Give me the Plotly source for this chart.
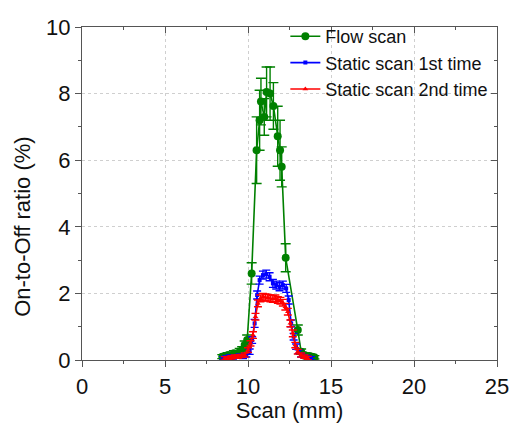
import plotly.graph_objects as go

# Flow scan
flow_x = [8.45, 8.6, 8.8, 9.0, 9.15, 9.3, 9.5, 9.65, 9.8, 9.95, 10.22, 10.52, 10.7, 10.78, 10.98,
          11.12, 11.33, 11.53, 11.79, 11.93, 12.03, 12.27, 13.0, 13.2, 13.4, 13.55, 13.7, 13.85, 14.0]
flow_y = [0.1, 0.12, 0.15, 0.1, 0.2, 0.18, 0.25, 0.3, 0.45, 0.6, 2.6, 6.3, 7.2, 7.76, 7.3,
          8.05, 8.0, 7.63, 6.72, 6.3, 5.8, 3.07, 0.9, 0.25, 0.15, 0.1, 0.12, 0.1, 0.08]
flow_e = [0.06, 0.06, 0.07, 0.06, 0.08, 0.08, 0.1, 0.1, 0.12, 0.15, 0.32, 1.0, 0.9, 0.7, 0.55,
          0.75, 0.8, 0.7, 0.9, 0.9, 0.6, 0.42, 0.15, 0.08, 0.06, 0.06, 0.06, 0.05, 0.05]

# Static scan 1st time
s1_x = [8.5, 8.7, 8.9, 9.1, 9.3, 9.5, 9.7, 9.9, 10.1, 10.25, 10.4, 10.55, 10.7, 10.9, 11.1, 11.3,
        11.5, 11.7, 11.9, 12.1, 12.3, 12.45, 12.6, 12.75, 12.9, 13.05, 13.2, 13.4, 13.6, 13.8]
s1_y = [0.05, 0.08, 0.1, 0.08, 0.1, 0.12, 0.1, 0.15, 0.25, 0.6, 1.1, 1.95, 2.4, 2.55, 2.58, 2.5,
        2.3, 2.25, 2.2, 2.25, 2.15, 1.8, 1.1, 0.7, 0.4, 0.25, 0.15, 0.1, 0.08, 0.05]
s1_e = [0.05, 0.05, 0.05, 0.05, 0.05, 0.06, 0.06, 0.06, 0.08, 0.1, 0.12, 0.12, 0.12, 0.12, 0.12, 0.12,
        0.12, 0.12, 0.12, 0.12, 0.12, 0.12, 0.1, 0.1, 0.08, 0.06, 0.06, 0.05, 0.05, 0.05]

# Static scan 2nd time
s2_x = [8.6, 8.8, 9.0, 9.2, 9.4, 9.6, 9.8, 10.0, 10.15, 10.3, 10.45, 10.6, 10.75, 10.9, 11.05, 11.2,
        11.35, 11.5, 11.65, 11.8, 11.95, 12.1, 12.25, 12.4, 12.55, 12.7, 12.85, 13.0, 13.2, 13.4, 13.6]
s2_y = [0.05, 0.06, 0.08, 0.1, 0.1, 0.12, 0.15, 0.3, 0.5, 0.75, 1.3, 1.7, 1.85, 1.9, 1.88, 1.87,
        1.85, 1.83, 1.85, 1.8, 1.78, 1.72, 1.6, 1.45, 1.1, 0.8, 0.45, 0.25, 0.15, 0.1, 0.06]
s2_e = [0.05, 0.05, 0.05, 0.05, 0.05, 0.05, 0.06, 0.07, 0.08, 0.1, 0.1, 0.1, 0.1, 0.1, 0.1, 0.1,
        0.1, 0.1, 0.1, 0.1, 0.1, 0.1, 0.1, 0.1, 0.1, 0.1, 0.08, 0.07, 0.06, 0.05, 0.05]

x_ticks = [0, 5, 10, 15, 20, 25]
y_ticks = [0, 2, 4, 6, 8, 10]

FONT = "Liberation Sans, Arial, sans-serif"
AX = "#555555"

fig = go.Figure()
fig.add_trace(go.Scatter(
    x=flow_x, y=flow_y, name="Flow scan", mode="lines+markers",
    line=dict(color="#008000", width=1.6),
    marker=dict(symbol="circle", size=8, color="#008000"),
    error_y=dict(type="data", array=flow_e, visible=True, color="#008000", thickness=1.4, width=5),
))
fig.add_trace(go.Scatter(
    x=s1_x, y=s1_y, name="Static scan 1st time", mode="lines+markers",
    line=dict(color="#0000ff", width=1.6),
    marker=dict(symbol="square", size=4, color="#0000ff"),
    error_y=dict(type="data", array=s1_e, visible=True, color="#0000ff", thickness=1.4, width=4),
))
fig.add_trace(go.Scatter(
    x=s2_x, y=s2_y, name="Static scan 2nd time", mode="lines+markers",
    line=dict(color="#ff0000", width=1.6),
    marker=dict(symbol="triangle-up", size=5, color="#ff0000"),
    error_y=dict(type="data", array=s2_e, visible=True, color="#ff0000", thickness=1.4, width=4),
))
# empty helper traces so the mirrored (top/right) tick axes are drawn
fig.add_trace(go.Scatter(x=[None], y=[None], xaxis="x2", yaxis="y", showlegend=False, hoverinfo="skip"))
fig.add_trace(go.Scatter(x=[None], y=[None], xaxis="x", yaxis="y2", showlegend=False, hoverinfo="skip"))

axis_common = dict(
    showline=True, linecolor=AX, linewidth=1.2,
    ticks="outside", tickcolor=AX, ticklen=6, tickwidth=1.2,
    showgrid=True, gridcolor="#cfcfcf", griddash="dot", gridwidth=1,
    zeroline=False, mirror=True, automargin=False,
    tickfont=dict(family=FONT, size=22, color="#111111"),
)

fig.update_layout(
    width=512, height=423,
    margin=dict(l=82, r=15, t=27, b=63),
    plot_bgcolor="white", paper_bgcolor="white",
    font=dict(family=FONT, color="#111111"),
    showlegend=True,
    legend=dict(x=0.49, y=1.027, xanchor="left", yanchor="top",
                bgcolor="rgba(0,0,0,0)", font=dict(family=FONT, size=18, color="#111111"),
                tracegroupgap=0),
    xaxis=dict(axis_common, range=[0, 25], tickvals=x_ticks,
               minor=dict(dtick=2.5, ticks="outside", ticklen=3, tickcolor=AX, showgrid=False),
               title=dict(text="Scan (mm)", font=dict(family=FONT, size=22), standoff=5)),
    yaxis=dict(axis_common, range=[0, 10], tickvals=y_ticks,
               minor=dict(dtick=1, ticks="outside", ticklen=3, tickcolor=AX, showgrid=False)),
    xaxis2=dict(overlaying="x", side="top", anchor="y", range=[0, 25], tickvals=x_ticks,
                showticklabels=False, ticks="inside", ticklen=6, tickcolor=AX, tickwidth=1.2,
                showgrid=False, zeroline=False, showline=False, automargin=False,
                minor=dict(dtick=2.5, ticks="inside", ticklen=3, tickcolor=AX, showgrid=False)),
    yaxis2=dict(overlaying="y", side="right", anchor="x", range=[0, 10], tickvals=y_ticks,
                showticklabels=False, ticks="inside", ticklen=6, tickcolor=AX, tickwidth=1.2,
                showgrid=False, zeroline=False, showline=False, automargin=False,
                minor=dict(dtick=1, ticks="inside", ticklen=3, tickcolor=AX, showgrid=False)),
    annotations=[dict(text="On-to-Off ratio (%)", xref="paper", yref="paper",
                      x=-0.142, y=0.40, xanchor="center", yanchor="middle", textangle=-90,
                      showarrow=False, font=dict(family=FONT, size=22, color="#111111"))],
)

fig.write_html("out.html")
